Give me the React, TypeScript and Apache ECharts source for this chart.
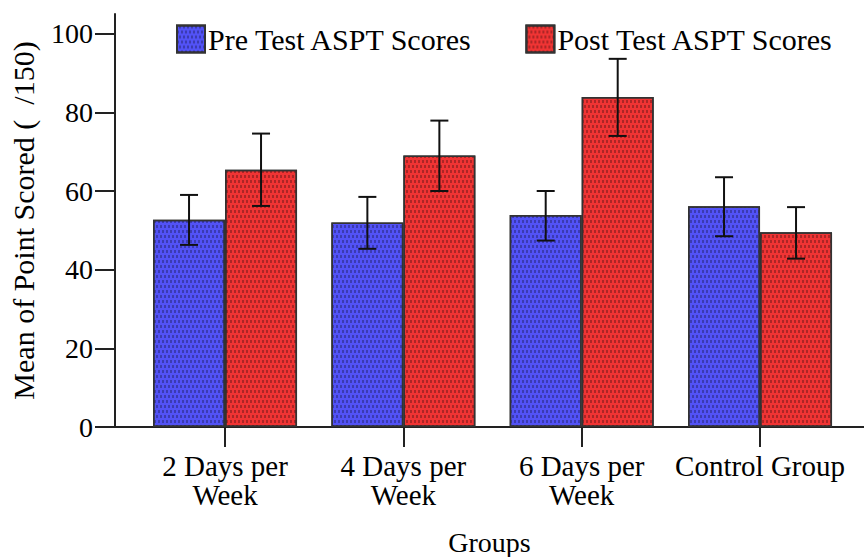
import React, { useEffect, useRef } from "react";
import * as echarts from "echarts";

const categories = ["2 Days per\nWeek", "4 Days per\nWeek", "6 Days per\nWeek", "Control Group"];
const positions = [1, 2, 3, 4];
const preMean = [52.7, 52.0, 53.9, 56.1];
const preLow = [46.3, 45.3, 47.4, 48.5];
const preHigh = [59.0, 58.5, 60.0, 63.5];
const postMean = [65.4, 69.0, 83.9, 49.5];
const postLow = [56.2, 60.0, 74.0, 42.8];
const postHigh = [74.6, 77.9, 93.6, 55.9];
const yTicks = [0, 20, 40, 60, 80, 100];

const FONT = "Liberation Serif";
const BAR_W = 72;

export default function App() {
  const ref = useRef<HTMLDivElement>(null);
  useEffect(() => {
    if (!ref.current) return;
    const chart = echarts.init(ref.current, null, { renderer: "svg" });
    const errSeries = (low: number[], high: number[], offset: number) => ({
      type: "custom",
      silent: true,
      z: 5,
      data: positions.map((p, i) => [p, low[i], high[i]]),
      renderItem: (params: any, api: any) => {
        const x = api.value(0);
        const lo = api.coord([x, api.value(1)]);
        const hi = api.coord([x, api.value(2)]);
        const cx = lo[0] + offset;
        const cap = 9;
        const style = { stroke: "#111", lineWidth: 2 };
        return {
          type: "group",
          children: [
            { type: "line", shape: { x1: cx, y1: lo[1], x2: cx, y2: hi[1] }, style },
            { type: "line", shape: { x1: cx - cap, y1: hi[1], x2: cx + cap, y2: hi[1] }, style },
            { type: "line", shape: { x1: cx - cap, y1: lo[1], x2: cx + cap, y2: lo[1] }, style },
          ],
        };
      },
    });
    const decal = {
      symbol: "rect",
      symbolSize: 1,
      color: "rgba(0,0,0,0.28)",
      dashArrayX: [[2, 2], [0, 2, 2, 0]],
      dashArrayY: [3, 2],
    };
    chart.setOption({
      animation: false,
      textStyle: { fontFamily: FONT, color: "#000" },
      legend: {
        left: 176,
        top: 24,
        padding: 0,
        icon: "rect",
        itemWidth: 28,
        itemHeight: 27,
        itemGap: 52,
        textStyle: { color: "#000", fontSize: 30, fontFamily: FONT, padding: [0, 0, 0, -2] },
        data: ["Pre Test ASPT Scores", "Post Test ASPT Scores"],
      },
      grid: { left: 115, right: 0, top: 14, bottom: 130, outerBoundsMode: "none", containLabel: false },
      xAxis: {
        type: "value",
        min: 0.383,
        max: 4.583,
        name: "Groups",
        nameLocation: "middle",
        nameGap: 101,
        nameTextStyle: { color: "#000", fontSize: 28, lineHeight: 28, fontFamily: FONT },
        splitLine: { show: false },
        axisLine: { show: true, onZero: false, lineStyle: { color: "#222", width: 2 } },
        axisTick: { show: true, length: 20, customValues: positions, lineStyle: { color: "#222", width: 2 } },
        axisLabel: {
          color: "#000",
          fontSize: 29,
          fontFamily: FONT,
          customValues: positions,
          lineHeight: 29,
          margin: 24,
          formatter: (v: number) => categories[Math.round(v) - 1] ?? "",
        },
      },
      yAxis: {
        type: "value",
        min: 0,
        max: 105,
        name: "Mean of Point Scored (  /150)",
        nameLocation: "middle",
        nameGap: 77,
        nameTextStyle: { color: "#000", fontSize: 30, fontFamily: FONT },
        splitLine: { show: false },
        axisLine: { show: true, lineStyle: { color: "#222", width: 2 } },
        axisTick: { show: true, length: 20, customValues: yTicks, lineStyle: { color: "#222", width: 2 } },
        axisLabel: { color: "#000", fontSize: 28, fontFamily: FONT, customValues: yTicks, margin: 22 },
      },
      series: [
        {
          name: "Pre Test ASPT Scores",
          type: "bar",
          barWidth: BAR_W,
          barGap: "0%",
          data: positions.map((p, i) => [p, preMean[i]]),
          itemStyle: { color: "#5252f6", borderColor: "#333", borderWidth: 1.5, decal },
        },
        {
          name: "Post Test ASPT Scores",
          type: "bar",
          barWidth: BAR_W,
          barGap: "0%",
          data: positions.map((p, i) => [p, postMean[i]]),
          itemStyle: { color: "#f03434", borderColor: "#333", borderWidth: 1.5, decal },
        },
        errSeries(preLow, preHigh, -BAR_W / 2),
        errSeries(postLow, postHigh, BAR_W / 2),
      ],
    });
    return () => chart.dispose();
  }, []);
  return <div ref={ref} style={{ width: 864, height: 557, position: "absolute", left: 0, top: 0 }} />;
}
